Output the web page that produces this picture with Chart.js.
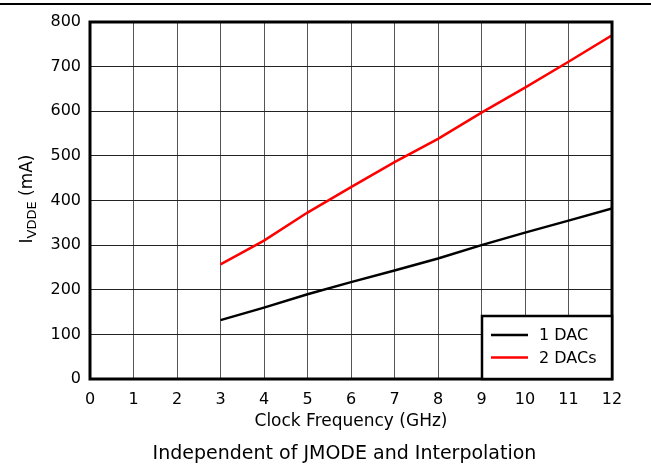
<!DOCTYPE html>
<html>
<head>
  <title>IVDDE vs Clock Frequency</title>
  <style>
    body { margin: 0; background: #fff; font-family: "DejaVu Sans", sans-serif; }
    #wrap { position: relative; width: 651px; height: 466px; }
    #topline { position: absolute; left: 0; top: 3px; width: 651px; border-top: 2px solid #000; }
    #caption { position: absolute; left: 0; width: 689px; top: 441px; text-align: center; font-size: 19px; color: #000; }
  </style>
</head>
<body>
  <div id="wrap">
    <canvas id="chart" width="651" height="466"></canvas>
    <div id="topline"></div>
    <div id="caption">Independent of JMODE and Interpolation</div>
  </div>

  <script src="https://cdn.jsdelivr.net/npm/chart.js"></script>
  <script>
    const clockGHz = [3, 4, 5, 6, 7, 8, 9, 10, 11, 12];
    const oneDac = [132, 160, 190, 217, 243, 270, 300, 328, 355, 382];
    const twoDacs = [257, 310, 373, 430, 486, 538, 597, 653, 711, 770];
    const xTicks = [0, 1, 2, 3, 4, 5, 6, 7, 8, 9, 10, 11, 12];
    const yTicks = [0, 100, 200, 300, 400, 500, 600, 700, 800];

    const font = { family: '"DejaVu Sans", sans-serif', size: 16 };

    // frame, boxed legend and the y title with its subscript
    const extras = {
      id: 'extras',
      afterDraw(chart) {
        const ctx = chart.ctx;
        const a = chart.chartArea;
        ctx.save();
        ctx.strokeStyle = '#000';
        ctx.lineWidth = 3;
        ctx.strokeRect(a.left, a.top, a.right - a.left, a.bottom - a.top);

        // legend box
        const bx = 482, by = 316, bw = a.right - 482, bh = a.bottom - 316;
        ctx.fillStyle = '#fff';
        ctx.fillRect(bx, by, bw, bh);
        ctx.lineWidth = 2.5;
        ctx.strokeRect(bx, by, bw, bh);
        ctx.font = '16px ' + font.family;
        ctx.textBaseline = 'middle';
        chart.data.datasets.forEach((ds, i) => {
          const y = 335 + i * 22.5;
          ctx.strokeStyle = ds.borderColor;
          ctx.lineWidth = 2.5;
          ctx.beginPath();
          ctx.moveTo(491, y);
          ctx.lineTo(528, y);
          ctx.stroke();
          ctx.fillStyle = '#000';
          ctx.fillText(ds.label, 539, y + 1);
        });

        // y axis title
        ctx.translate(32, 199);
        ctx.rotate(-Math.PI / 2);
        ctx.textBaseline = 'alphabetic';
        ctx.fillStyle = '#000';
        const big = '17px ' + font.family, small = '13px ' + font.family;
        ctx.font = big; const w1 = ctx.measureText('I').width;
        ctx.font = small; const w2 = ctx.measureText('VDDE').width;
        ctx.font = big; const w3 = ctx.measureText(' (mA)').width;
        let x = -(w1 + w2 + w3) / 2;
        ctx.font = big; ctx.fillText('I', x, 0); x += w1;
        ctx.font = small; ctx.fillText('VDDE', x, 4); x += w2;
        ctx.font = big; ctx.fillText(' (mA)', x, 0);
        ctx.restore();
      }
    };

    new Chart(document.getElementById('chart'), {
      type: 'line',
      data: {
        labels: clockGHz,
        datasets: [
          { label: '1 DAC', data: clockGHz.map((x, i) => ({ x: x, y: oneDac[i] })), borderColor: '#000', borderWidth: 2.5, pointRadius: 0, tension: 0 },
          { label: '2 DACs', data: clockGHz.map((x, i) => ({ x: x, y: twoDacs[i] })), borderColor: '#ff0000', borderWidth: 2.5, pointRadius: 0, tension: 0 }
        ]
      },
      options: {
        responsive: false,
        animation: false,
        layout: { padding: { left: 0, right: 39, top: 22, bottom: 32 } },
        plugins: { legend: { display: false }, tooltip: { enabled: false } },
        scales: {
          x: {
            type: 'linear', min: 0, max: 12,
            afterBuildTicks: s => { s.ticks = xTicks.map(v => ({ value: v })); },
            afterFit: s => { s.height = 55; },
            grid: { color: '#555', lineWidth: 1, drawTicks: false },
            border: { display: false },
            ticks: { color: '#000', font: font, padding: 11, maxRotation: 0 },
            title: { display: true, text: 'Clock Frequency (GHz)', color: '#000', font: { family: font.family, size: 17 }, padding: { top: 0, bottom: 2 } }
          },
          y: {
            min: 0, max: 800,
            afterBuildTicks: s => { s.ticks = yTicks.map(v => ({ value: v })); },
            afterFit: s => { s.width = 90; },
            grid: { color: '#222', lineWidth: 1, drawTicks: false },
            border: { display: false },
            ticks: { color: '#000', font: font, padding: 9 }
          }
        }
      },
      plugins: [extras]
    });
  </script>
</body>
</html>
